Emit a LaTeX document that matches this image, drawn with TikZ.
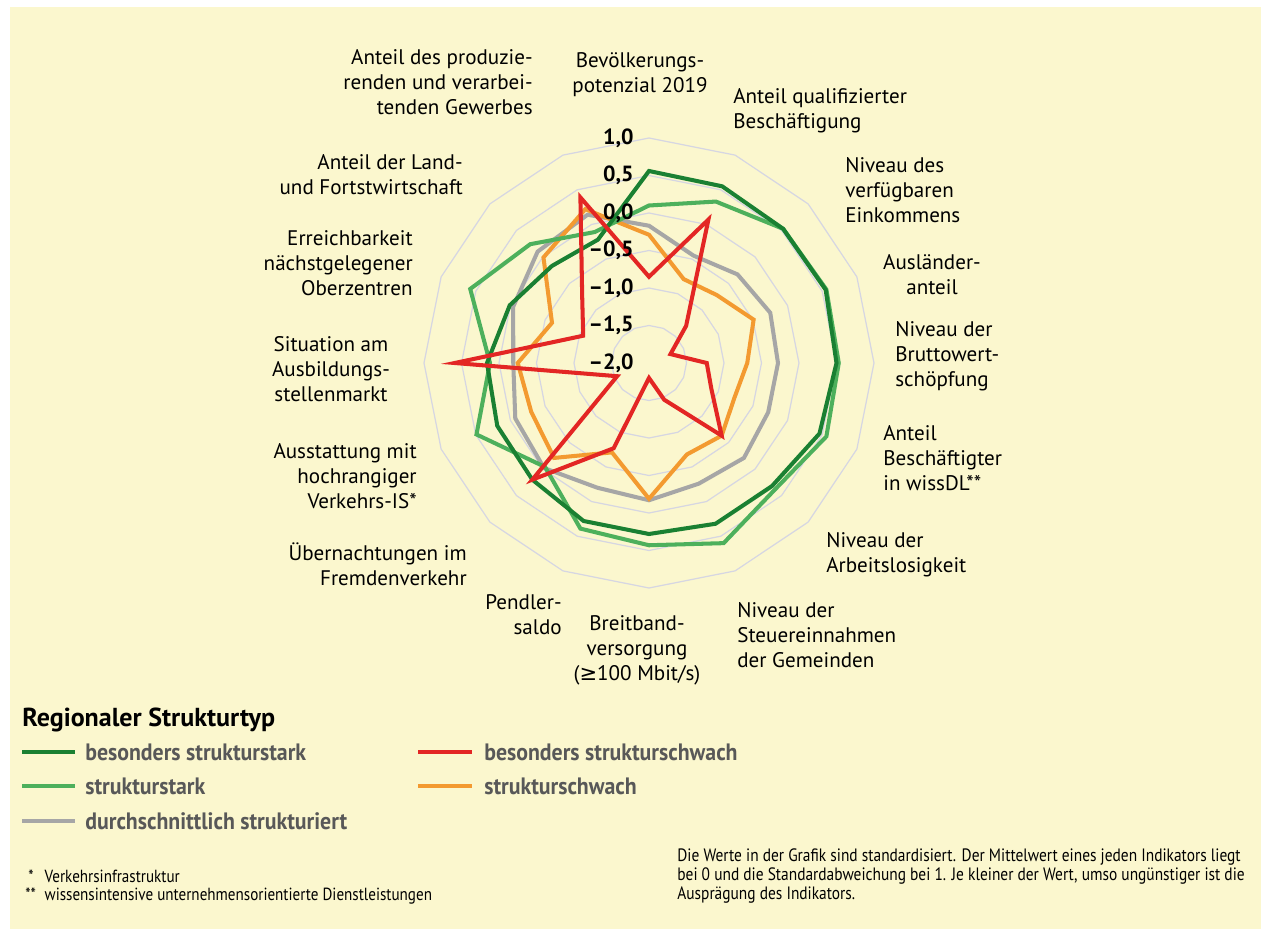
\documentclass[tikz,border=0pt]{standalone}
\usepackage{fontspec}
\setmainfont{PT Sans}
\newfontfamily\condfont[FakeStretch=0.86]{PT Sans}
\newfontfamily\legfont[FakeStretch=0.92]{PT Sans}
\newfontfamily\symfont{DejaVu Sans}
\definecolor{bgyellow}{RGB}{251,247,206}
\definecolor{ringgrey}{RGB}{214,214,226}
\definecolor{dkgreen}{RGB}{26,128,50}
\definecolor{ltgreen}{RGB}{77,176,92}
\definecolor{midgrey}{RGB}{166,166,166}
\definecolor{chorange}{RGB}{243,154,48}
\definecolor{chred}{RGB}{227,38,36}
\definecolor{legtext}{RGB}{88,88,88}

\begin{document}
\begin{tikzpicture}[x=0.02cm, y=0.02cm,
    ring/.style = {draw=ringgrey, line width=0.7pt},
    serline/.style = {line width=2.3pt, line join=miter},
    bss line/.style = {serline, draw=dkgreen},
    ss line/.style = {serline, draw=ltgreen},
    ds line/.style = {serline, draw=midgrey},
    sw line/.style = {serline, draw=chorange},
    bsw line/.style = {serline, draw=chred},
    axlabel/.style = {font=\fontsize{12}{14.2}\selectfont, inner sep=0pt},
    tick/.style = {font=\fontsize{12.5}{13}\selectfont\bfseries, inner sep=0pt, anchor=east},
    legline/.style = {line width=2.3pt},
    legtxt/.style = {font=\fontsize{13.5}{15}\selectfont\legfont\bfseries, text=legtext, inner sep=0pt, anchor=west},
    note/.style = {font=\fontsize{10.2}{10.8}\selectfont\condfont, inner sep=0pt, align=left}]
  \useasboundingbox (0,0) rectangle (1261,-929);
  \fill[bgyellow] (10,-7) rectangle (1261,-929);

  \begin{scope}[shift={(649,-363)}]
    % grid rings
    \foreach \r in {1,...,6} {
      \draw[ring] (90:{\r*37.5}) \foreach \i in {1,...,15} { -- ({90-22.5*\i}:{\r*37.5}) } -- cycle;
    }
    % series
    \foreach \ser/\vals in {
        ds/{-0.17,-0.45,-0.33,-0.25,-0.28,-0.28,-0.21,-0.26,-0.17,-0.20,-0.02,-0.07,-0.19,-0.04,0.10,0.14},
        sw/{-0.29,-0.79,-0.72,-0.49,-0.69,-0.77,-0.63,-0.68,-0.19,-0.71,-0.21,-0.30,-0.25,-0.60,-0.01,0.22},
        ss/{0.10,0.33,0.53,0.56,0.53,0.56,0.38,0.60,0.43,0.39,-0.04,0.49,0.12,0.58,0.24,-0.11},
        bss/{0.56,0.55,0.53,0.55,0.50,0.46,0.32,0.32,0.28,0.28,0.20,0.19,0.16,0.01,-0.17,-0.22},
        bsw/{-0.85,0.07,-1.30,-1.69,-1.23,-1.10,-0.63,-1.47,-1.80,-0.77,0.20,-1.54,0.59,-1.05,-0.74,0.39}} {
      \foreach \v [count=\i from 0] in \vals {
        \coordinate (\ser-\i) at ({90-22.5*\i}:{(\v+2)*75});
      }
      \draw[\ser\space line] (\ser-0) \foreach \i in {1,...,15} { -- (\ser-\i) } -- cycle;
    }
  \end{scope}

  % scale
  \foreach \k/\t in {0/{1,0}, 1/{0,5}, 2/{0,0}, 3/{–0,5}, 4/{–1,0}, 5/{–1,5}, 6/{–2,0}}
    \node[tick] (tick-\k) at (634,{-138-37.5*\k}) {\t};

  % axis labels
  \node[axlabel, align=center] (bev) at (640,-75) {Bevölkerungs-\\potenzial 2019};
  \node[axlabel, align=left, anchor=west] (quali) at (733,-111) {Anteil qualifizierter\\Beschäftigung};
  \node[axlabel, align=left, anchor=west] (eink) at (845,-190) {Niveau des\\verfügbaren\\Einkommens};
  \node[axlabel, align=center] (ausl) at (932,-275) {Ausländer-\\anteil};
  \node[axlabel, align=left, anchor=west] (bws) at (895,-356) {Niveau der\\Bruttowert-\\schöpfung};
  \node[axlabel, align=left, anchor=west] (wissdl) at (883,-458) {Anteil\\Beschäftigter\\in wissDL**};
  \node[axlabel, align=left, anchor=west] (alos) at (826,-555) {Niveau der\\Arbeitslosigkeit};
  \node[axlabel, align=left, anchor=west] (steuer) at (737,-635) {Niveau der\\Steuereinnahmen\\der Gemeinden};
  \node[axlabel, align=center] (breit) at (637,-650) {Breitband-\\versorgung\\({\symfont ≥}100 Mbit/s)};
  \node[axlabel, align=right, anchor=east] (pend) at (562,-615) {Pendler-\\saldo};
  \node[axlabel, align=right, anchor=east] (uebern) at (467,-564) {Übernachtungen im\\Fremdenverkehr};
  \node[axlabel, align=right, anchor=east] (verk) at (417,-476) {Ausstattung mit\\hochrangiger\\Verkehrs-IS*};
  \node[axlabel, align=center] (ausb) at (331,-369) {Situation am\\Ausbildungs-\\stellenmarkt};
  \node[axlabel, align=right, anchor=east] (erreich) at (413,-263) {Erreichbarkeit\\nächstgelegener\\Oberzentren};
  \node[axlabel, align=right, anchor=east] (landw) at (463,-175) {Anteil der Land-\\und Fortstwirtschaft};
  \node[axlabel, align=right, anchor=east] (gewerbe) at (533,-82) {Anteil des produzie-\\renden und verarbei-\\tenden Gewerbes};

  % legend
  \node[font=\fontsize{14.8}{16}\selectfont\bfseries, inner sep=0pt, anchor=west] (legtitle) at (22,-720) {Regionaler Strukturtyp};
  \draw[legline, dkgreen] (22,-752) -- (75,-752);
  \node[legtxt] (leg-bss) at (85,-752) {besonders strukturstark};
  \draw[legline, ltgreen] (22,-786) -- (75,-786);
  \node[legtxt] (leg-ss) at (85,-786) {strukturstark};
  \draw[legline, midgrey] (22,-821) -- (75,-821);
  \node[legtxt] (leg-ds) at (85,-821) {durchschnittlich strukturiert};
  \draw[legline, chred] (418,-752) -- (472,-752);
  \node[legtxt] (leg-bsw) at (484,-752) {besonders strukturschwach};
  \draw[legline, chorange] (418,-786) -- (472,-786);
  \node[legtxt] (leg-sw) at (484,-786) {strukturschwach};

  % notes
  \node[note, font=\fontsize{10}{9.8}\selectfont\condfont, anchor=west] (foot) at (25,-887) {\makebox[11pt][l]{\,*}Verkehrsinfrastruktur\\\makebox[11pt][l]{**}wissensintensive unternehmensorientierte Dienstleistungen};
  \node[note, anchor=west] (hint) at (677,-876) {Die Werte in der Grafik sind standardisiert. Der Mittelwert eines jeden Indikators liegt\\bei 0 und die Standardabweichung bei 1. Je kleiner der Wert, umso ungünstiger ist die\\Ausprägung des Indikators.};
\end{tikzpicture}
\end{document}
